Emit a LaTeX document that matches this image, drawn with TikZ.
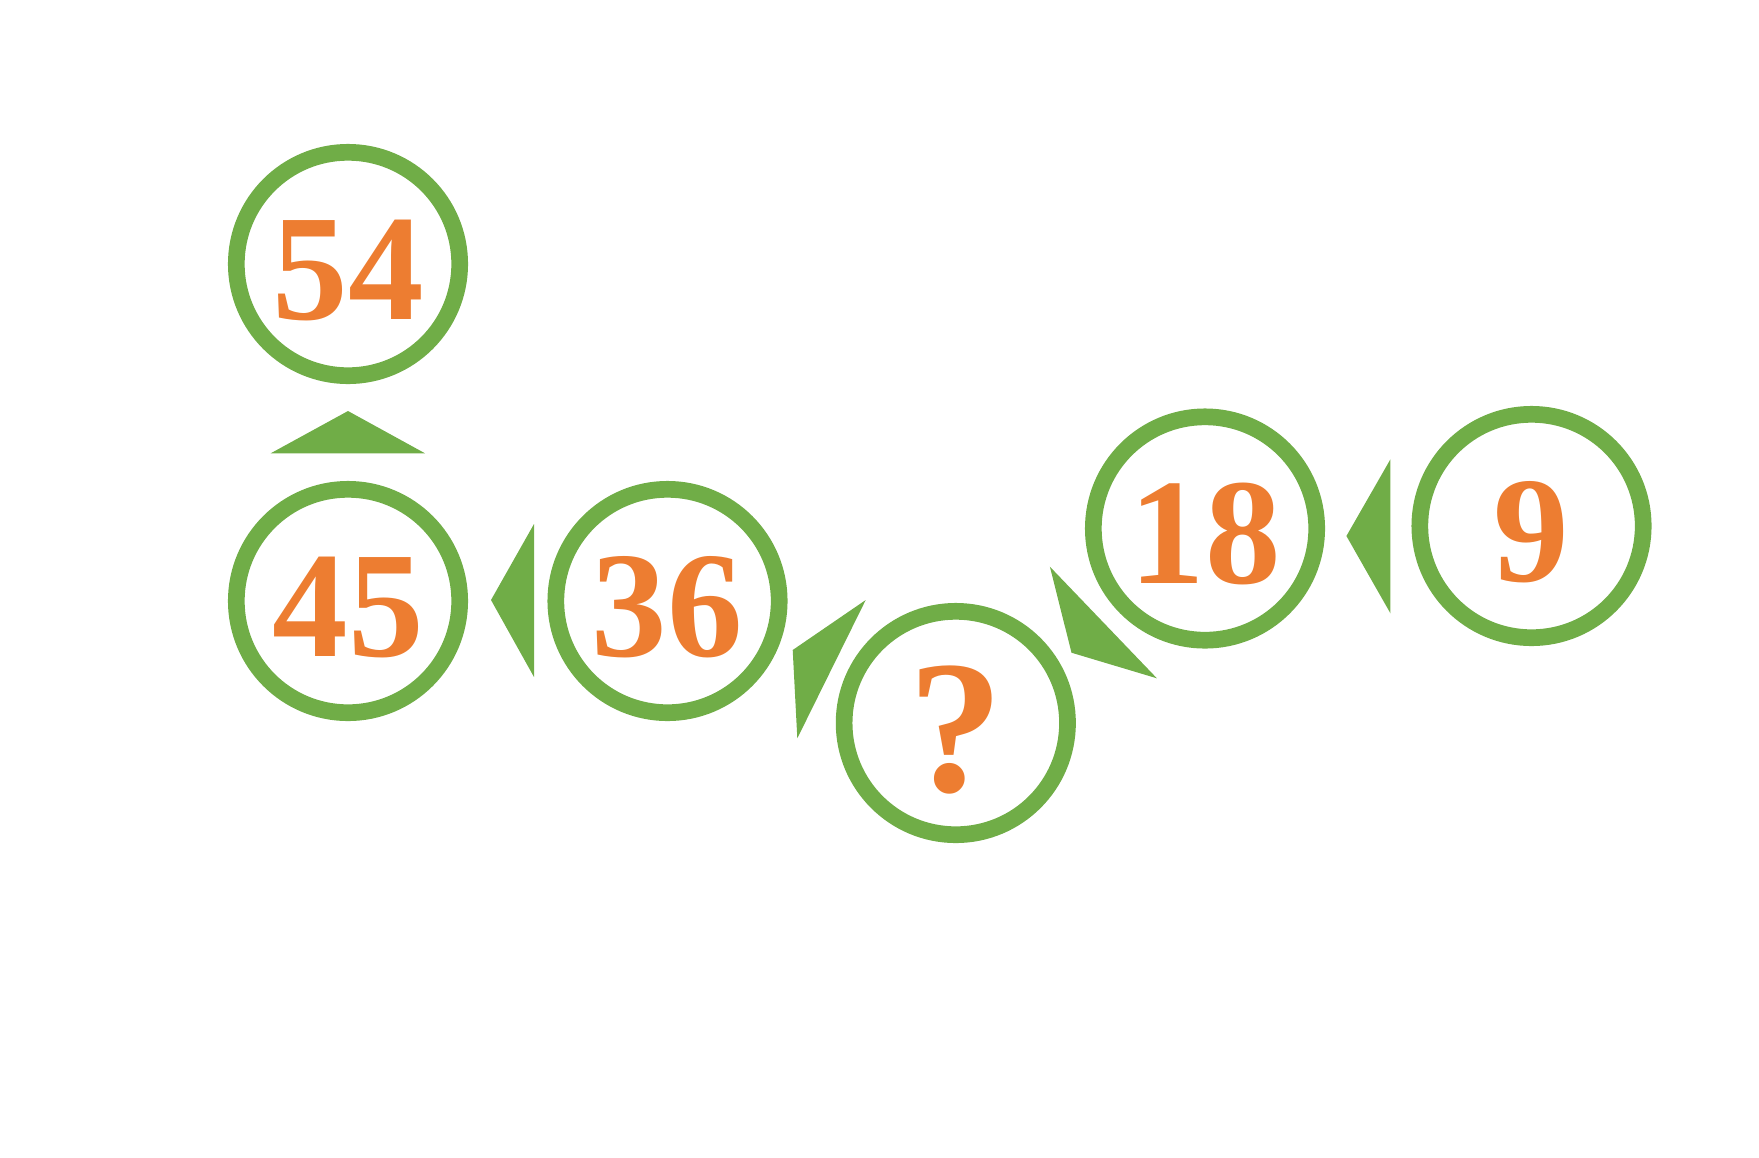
\documentclass[tikz,border=0pt]{standalone}
\usepackage{fontspec}
\setmainfont{Liberation Serif}
\usepackage{tikz}
\usetikzlibrary{positioning,calc}
\definecolor{ringgreen}{HTML}{70AD47}
\definecolor{numorange}{HTML}{ED7D31}

\begin{document}
\begin{tikzpicture}[ring/.style={draw=ringgreen, circle, line width=4.75pt, minimum size=2.234cm, inner sep=0pt, text=numorange, text height=1.1cm, text depth=0pt, font=\bfseries\fontsize{43}{43}\selectfont}, pointer/.style={fill=ringgreen}]
  \useasboundingbox (0,0) rectangle (17.59,-11.57);

  \node[ring] (n54) at (3.48,-2.64) {54};
  \node[ring] (n45) at (3.48,-6.01) {45};
  \node[ring] (n36) at (6.675,-6.01) {36};
  \node[ring, text height=1.37cm, font=\bfseries\fontsize{54}{54}\selectfont] (nq) at (9.558,-7.23) {?};
  \node[ring] (n18) at (12.05,-5.285) {18};
  \node[ring] (n9) at (15.315,-5.26) {9};

  \fill[pointer] (2.707,-4.533) -- (4.25,-4.533) -- (3.48,-4.11) -- cycle;
  \fill[pointer] (5.34,-5.24) -- (5.34,-6.77) -- (4.91,-6.00) -- cycle;
  \fill[pointer] (8.657,-6.00) -- (7.973,-7.383) -- (7.927,-6.50) -- cycle;
  \fill[pointer] (10.499,-5.667) -- (11.569,-6.783) -- (10.715,-6.527) -- cycle;
  \fill[pointer] (13.904,-4.593) -- (13.904,-6.133) -- (13.464,-5.36) -- cycle;
\end{tikzpicture}
\end{document}
